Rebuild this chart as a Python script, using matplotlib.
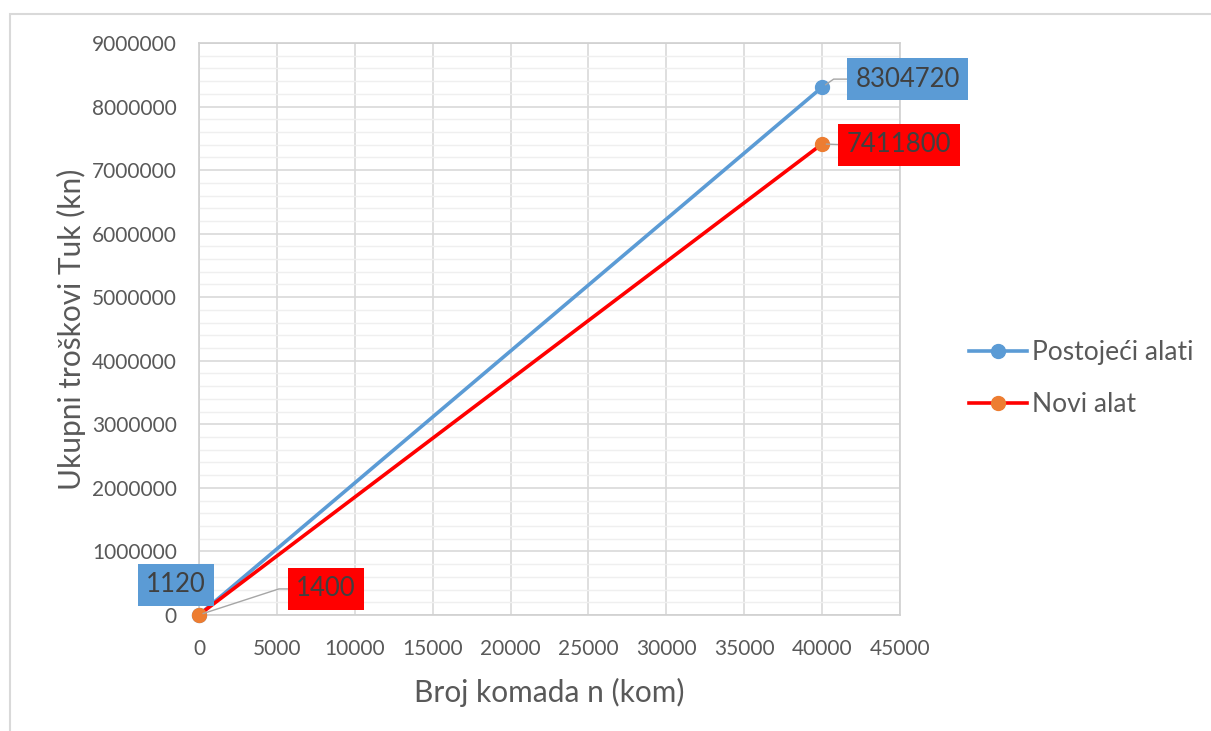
import matplotlib.pyplot as plt
from matplotlib.ticker import MultipleLocator, StrMethodFormatter
from matplotlib.patches import Rectangle

# Data: number of pieces vs total cost
n_kom = [0, 40000]
postojeci = [1120, 8304720]
novi = [1400, 7411800]
series_names = ["Postojeći alati", "Novi alat"]

X_MIN, X_MAX, X_STEP = 0, 45000, 5000
Y_MIN, Y_MAX, Y_STEP, Y_MINOR = 0, 9000000, 1000000, 200000

BLUE = '#5B9BD5'
RED = '#FF0000'
ORANGE = '#ED7D31'
TEXT = '#595959'

plt.rcParams['font.family'] = ['Lato', 'DejaVu Sans']

fig = plt.figure(figsize=(12.11, 7.31), dpi=100)
ax = fig.add_axes([0.1643, 0.1587, 0.5789, 0.7825])

# outer chart frame
fig.patches.append(Rectangle((10 / 1211, -0.05), 1.2, 1 - 14 / 731 + 0.05,
                             transform=fig.transFigure, fill=False,
                             edgecolor='#d9d9d9', linewidth=1.5))

ax.set_xlim(X_MIN, X_MAX)
ax.set_ylim(Y_MIN, Y_MAX)
ax.xaxis.set_major_locator(MultipleLocator(X_STEP))
ax.yaxis.set_major_locator(MultipleLocator(Y_STEP))
ax.yaxis.set_minor_locator(MultipleLocator(Y_MINOR))
ax.yaxis.set_major_formatter(StrMethodFormatter('{x:.0f}'))
ax.xaxis.set_major_formatter(StrMethodFormatter('{x:.0f}'))
ax.grid(which='major', color='#d9d9d9', linewidth=1.2)
ax.grid(which='minor', axis='y', color='#efefef', linewidth=1.0)
ax.set_axisbelow(True)
for s in ax.spines.values():
    s.set_color('#d0d0d0')
    s.set_linewidth(1.2)
ax.tick_params(which='both', length=0, labelsize=15, colors=TEXT)
ax.tick_params(axis='y', pad=16)
ax.tick_params(axis='x', pad=17)

ax.plot(n_kom, postojeci, color=BLUE, linewidth=2.6, marker='o',
        markersize=10, markerfacecolor=BLUE, markeredgecolor=BLUE,
        label=series_names[0], zorder=3, clip_on=False)
ax.plot(n_kom, novi, color=RED, linewidth=2.6, marker='o',
        markersize=10, markerfacecolor=ORANGE, markeredgecolor=ORANGE,
        label=series_names[1], zorder=4, clip_on=False)

ax.set_xlabel("Broj komada n (kom)", fontsize=21.5, color=TEXT, labelpad=14)
ax.set_ylabel("Ukupni troškovi Tuk (kn)", fontsize=21.5, color=TEXT, labelpad=4)


# data labels
def label(x, y, text, color, offset, relpos, conn=None):
    arrow = None
    if conn is not None:
        arrow = dict(arrowstyle='-', color='#a6a6a6', linewidth=1.0,
                     shrinkA=0, shrinkB=3, relpos=relpos,
                     connectionstyle=conn)
    ax.annotate(text, xy=(x, y), xytext=offset, textcoords='offset points',
                ha='center', va='center', fontsize=18.5, color='#404040',
                bbox=dict(boxstyle='square,pad=0.33', facecolor=color,
                          edgecolor='none'),
                arrowprops=arrow, zorder=6, annotation_clip=False)


label(n_kom[1], postojeci[1], str(postojeci[1]), BLUE, (61.5, 5.8), (0, 0.5),
      "angle,angleA=0,angleB=35,rad=0")
label(n_kom[1], novi[1], str(novi[1]), RED, (55.5, -0.7), (0, 0.5), "arc3")
label(n_kom[0], postojeci[0], str(postojeci[0]), BLUE, (-16.5, 21.6), (0.5, 0.5))
label(n_kom[0], novi[0], str(novi[0]), RED, (91.5, 18.7), (0, 0.5),
      "angle,angleA=0,angleB=18,rad=0")

leg = fig.legend(loc='center left', bbox_to_anchor=(945 / 1211, 0.482),
                 frameon=False, fontsize=19, handlelength=2.2,
                 handletextpad=0.2, labelspacing=1.0)
for t in leg.get_texts():
    t.set_color(TEXT)

fig.savefig('out.png', dpi=100)
